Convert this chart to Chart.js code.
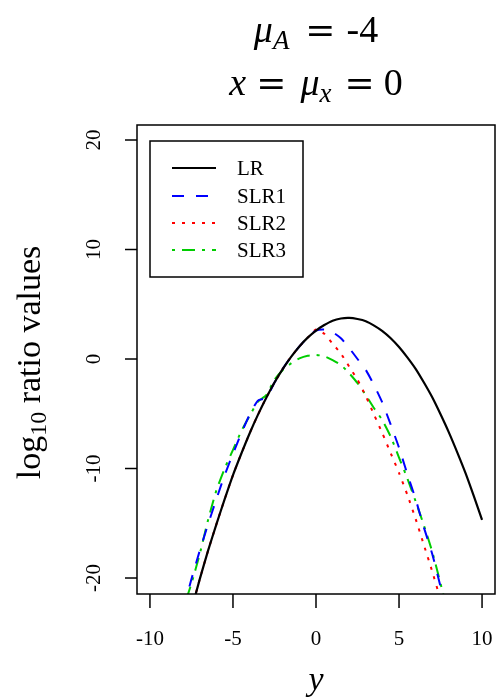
<!DOCTYPE html>
<html>
<head>
<meta charset="utf-8">
<script src="https://cdn.jsdelivr.net/npm/chart.js@4.4.1/dist/chart.umd.min.js"></script>
<style>
  body { margin: 0; background: #fff; }
</style>
</head>
<body>
<canvas id="plot" width="497" height="700"></canvas>
<script>
// values (y from -8 to 10, step 0.5)
const yGrid = [-8, -7.5, -7, -6.5, -6, -5.5, -5, -4.5, -4, -3.5, -3, -2.5, -2, -1.5, -1, -0.5,
  0, 0.5, 1, 1.5, 2, 2.5, 3, 3.5, 4, 4.5, 5, 5.5, 6, 6.5, 7, 7.5, 8, 8.5, 9, 9.5, 10];

const lrValues = [-25.75, -22.9, -20.1, -17.5, -15.1, -12.8, -10.6, -8.65, -6.8, -5.1, -3.55, -2.15,
  -0.9, 0.2, 1.15, 1.95, 2.6, 3.1, 3.5, 3.7, 3.75, 3.65, 3.45, 3.05, 2.55, 1.9, 1.1, 0.15,
  -0.9, -2.15, -3.5, -5.05, -6.7, -8.5, -10.4, -12.5, -14.7];

const slr1Values = [-22.9, -20.1, -17.5, -15.1, -12.8, -10.6, -8.65, -6.8, -5.1, -3.8, -3.55, -2.15,
  -0.9, 0.2, 1.15, 1.95, 2.6, 2.7, 2.45, 1.9, 1.0, 0.0, -1.0, -2.4, -4.0, -6.0, -8.1, -10.5,
  -12.8, -15.4, -17.8, -20.8, -24, null, null, null, null];

const slr2Values = [-25.75, -22.9, -20.1, -17.5, -15.1, -12.8, -10.6, -8.65, -6.8, -5.1, -3.55, -2.15,
  -0.9, 0.2, 1.15, 1.95, 2.7, 2.3, 1.4, 0.5, -0.7, -1.9, -3.4, -5.1, -6.8, -8.6, -10.4, -12.4,
  -14.6, -17.0, -19.4, -22.0, -25, null, null, null, null];

const slr3Values = [-22.8, -20.5, -17.8, -14.7, -12.0, -10.0, -8.3, -6.6, -5.2, -3.9, -3.3, -1.9,
  -1.0, -0.4, 0.05, 0.3, 0.37, 0.25, -0.1, -0.55, -1.3, -2.2, -3.3, -4.5, -5.6, -7.1, -9.0, -10.9,
  -13.0, -15.2, -17.6, -20.5, -23.5, null, null, null, null];

const seriesNames = ["LR", "SLR1", "SLR2", "SLR3"];
const xTicks = [-10, -5, 0, 5, 10];
const yTicks = [-20, -10, 0, 10, 20];

const serif = '"Liberation Serif", "DejaVu Serif", serif';
const eqFont = '36px "DejaVu Serif", serif';

function toPoints(vals) {
  return yGrid.map((x, i) => ({ x: x, y: vals[i] }));
}

// draws the R-like frame, axes, titles and legend
const rFrame = {
  id: "rFrame",
  afterDraw(chart) {
    const ctx = chart.ctx;
    const a = chart.chartArea;
    const xs = chart.scales.x;
    const ys = chart.scales.y;
    ctx.save();
    ctx.strokeStyle = "#000";
    ctx.fillStyle = "#000";
    ctx.lineWidth = 1.5;
    ctx.strokeRect(a.left, a.top, a.right - a.left, a.bottom - a.top);

    // x axis ticks
    ctx.font = "21px " + serif;
    ctx.textAlign = "center";
    ctx.textBaseline = "alphabetic";
    xTicks.forEach(v => {
      const px = xs.getPixelForValue(v);
      ctx.beginPath();
      ctx.moveTo(px, a.bottom);
      ctx.lineTo(px, a.bottom + 14);
      ctx.stroke();
      ctx.fillText(String(v), px, 645);
    });

    // y axis ticks, labels turned
    yTicks.forEach(v => {
      const py = ys.getPixelForValue(v);
      ctx.beginPath();
      ctx.moveTo(a.left - 12, py);
      ctx.lineTo(a.left, py);
      ctx.stroke();
      ctx.save();
      ctx.translate(100, py);
      ctx.rotate(-Math.PI / 2);
      ctx.fillText(String(v), 0, 0);
      ctx.restore();
    });

    // x title
    ctx.font = "italic 34px " + serif;
    ctx.fillText("y", (a.left + a.right) / 2, 690);

    // y title: log10 ratio values
    ctx.save();
    ctx.translate(40, (a.top + a.bottom) / 2 + 3);
    ctx.rotate(-Math.PI / 2);
    drawPieces(ctx, [
      { t: "log", f: "34px " + serif },
      { t: "10", f: "24px " + serif, dy: 6 },
      { t: " ratio values", f: "34px " + serif }
    ], 0, 0);
    ctx.restore();

    // title, two lines
    const cx = (a.left + a.right) / 2;
    drawPieces(ctx, [
      { t: "\u03bc", f: "italic 38px " + serif },
      { t: "A", f: "italic 27px " + serif, dy: 7 },
      { t: "=", f: eqFont, gl: 16, gr: 11 },
      { t: "-4", f: "38px " + serif }
    ], cx, 42);
    drawPieces(ctx, [
      { t: "x", f: "italic 38px " + serif },
      { t: "=", f: eqFont, gl: 10, gr: 14 },
      { t: "\u03bc", f: "italic 38px " + serif },
      { t: "x", f: "italic 27px " + serif, dy: 7 },
      { t: "=", f: eqFont, gl: 13, gr: 9 },
      { t: "0", f: "38px " + serif }
    ], cx, 95);

    // legend box
    ctx.lineWidth = 1.5;
    ctx.strokeRect(150, 141, 153, 136);
    const rows = [168, 196, 223, 250];
    ctx.font = "21px " + serif;
    ctx.textAlign = "left";
    ctx.textBaseline = "middle";
    chart.data.datasets.forEach((ds, i) => {
      ctx.save();
      ctx.strokeStyle = ds.borderColor;
      ctx.lineWidth = ds.borderWidth;
      ctx.setLineDash(ds.borderDash || []);
      ctx.beginPath();
      ctx.moveTo(172, rows[i]);
      ctx.lineTo(216, rows[i]);
      ctx.stroke();
      ctx.restore();
      ctx.fillText(ds.label, 237, rows[i] + 1);
    });
    ctx.restore();
  }
};

// text made of several parts (sub-scripts, gaps), centred on cx
function drawPieces(ctx, parts, cx, base) {
  let total = 0;
  parts.forEach(p => {
    ctx.font = p.f;
    p.w = ctx.measureText(p.t).width;
    total += p.w + (p.gl || 0) + (p.gr || 0);
  });
  let x = cx - total / 2;
  ctx.textAlign = "left";
  ctx.textBaseline = "alphabetic";
  parts.forEach(p => {
    x += p.gl || 0;
    ctx.font = p.f;
    ctx.fillText(p.t, x, base + (p.dy || 0));
    x += p.w + (p.gr || 0);
  });
  ctx.textAlign = "center";
}

const plotChart = new Chart(document.getElementById("plot"), {
  type: "line",
  plugins: [rFrame],
  data: {
    datasets: [
      { label: seriesNames[0], data: toPoints(lrValues), borderColor: "#000000", borderWidth: 2.2 },
      { label: seriesNames[1], data: toPoints(slr1Values), borderColor: "#0000ff", borderWidth: 2, borderDash: [12, 12] },
      { label: seriesNames[2], data: toPoints(slr2Values), borderColor: "#ff0000", borderWidth: 2, borderDash: [3, 7] },
      { label: seriesNames[3], data: toPoints(slr3Values), borderColor: "#00cd00", borderWidth: 2, borderDash: [3, 7, 13, 7] }
    ]
  },
  options: {
    responsive: false,
    animation: false,
    layout: { padding: { left: 137, right: 2, top: 125, bottom: 106 } },
    elements: {
      point: { radius: 0 },
      line: { tension: 0.2, fill: false }
    },
    datasets: { line: { clip: 0 } },
    plugins: { legend: { display: false }, tooltip: { enabled: false } },
    scales: {
      x: { type: "linear", min: -10.78, max: 10.78, display: false },
      y: { type: "linear", min: -21.46, max: 21.37, display: false }
    }
  }
});
</script>
</body>
</html>
